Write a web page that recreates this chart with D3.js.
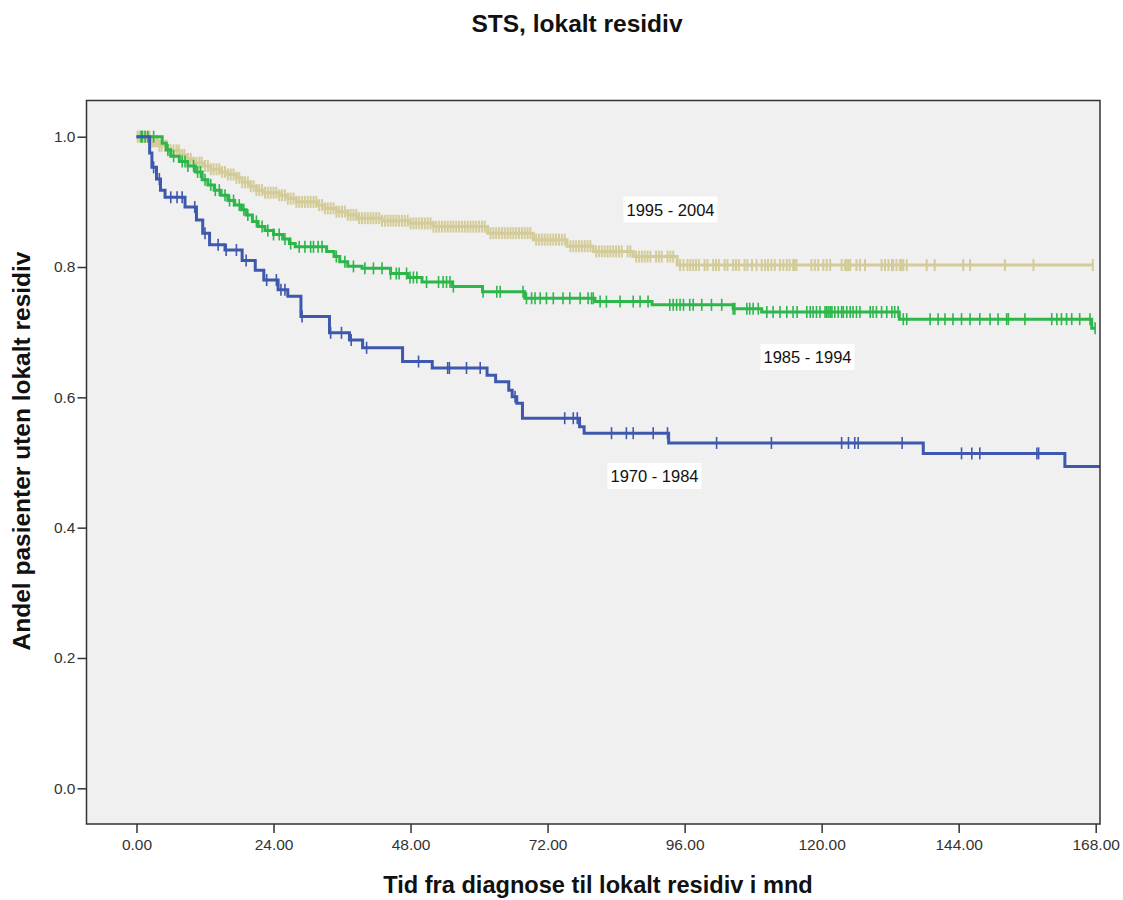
<!DOCTYPE html>
<html>
<head>
<meta charset="utf-8">
<script src="https://cdn.jsdelivr.net/npm/d3@7"></script>
<style>
    body { margin: 0; background: #fff; }
    text { font-family: "Liberation Sans", Arial, sans-serif; }
</style>
</head>
<body>
<div class="chart"></div>
<script>
// step data: survival after each drop, time in months
const blueTimes = [0, 2.3, 2.7, 3.5, 4.2, 5.0, 8.5, 10.5, 11.6, 12.8, 15.5, 18.5, 20.8, 22.3, 24.8, 26.5, 28.8, 33.8, 37.3, 39.6, 46.6, 51.8, 61.4, 62.9, 65.2, 65.8, 66.6, 67.6, 77.6, 78.4, 93.2, 137.8, 162.6, 168.75];
const blueSurv = [1.0, 0.975, 0.953, 0.935, 0.918, 0.907, 0.892, 0.872, 0.852, 0.834, 0.826, 0.81, 0.795, 0.78, 0.765, 0.755, 0.724, 0.699, 0.688, 0.676, 0.655, 0.645, 0.634, 0.624, 0.611, 0.601, 0.591, 0.568, 0.555, 0.545, 0.530, 0.514, 0.494, 0.494];
const blueCensor = [3.0, 4.0, 6.0, 7.1, 8.0, 10.2, 12.0, 14.3, 15.7, 17.5, 19.2, 22.8, 24.5, 25.3, 26.0, 29.0, 34.0, 35.9, 37.6, 40.3, 49.4, 54.5, 54.8, 57.8, 60.2, 66.3, 75.0, 76.5, 77.2, 83.2, 85.8, 87.0, 90.5, 93.0, 101.6, 111.2, 123.5, 124.7, 125.8, 126.4, 134.1, 144.5, 146.3, 147.7, 157.7, 158.0];

const greenTimes = [0, 4.5, 5.2, 6, 7.5, 9, 10.3, 11.5, 12.5, 13.6, 14.8, 16, 17.2, 18.4, 19.2, 20.3, 21.3, 22.5, 24, 25.6, 26.8, 27.8, 33.3, 34.6, 35.6, 37, 39.5, 44.5, 47.5, 50, 55.3, 60.6, 68, 80.3, 90.3, 104.5, 109.5, 133.6, 167.3, 167.9];
const greenSurv = [1.0, 0.99, 0.98, 0.97, 0.962, 0.955, 0.946, 0.934, 0.926, 0.918, 0.91, 0.902, 0.895, 0.888, 0.880, 0.870, 0.862, 0.856, 0.850, 0.843, 0.836, 0.831, 0.824, 0.816, 0.808, 0.801, 0.798, 0.790, 0.784, 0.777, 0.770, 0.762, 0.752, 0.747, 0.742, 0.736, 0.731, 0.720, 0.706, 0.706];
const greenCensor = [0.8, 1.0, 1.5, 2.0, 3.0, 5.5, 6.5, 8, 8.5, 9, 10, 10.7, 11.2, 12, 13, 13.8, 14.5, 15.5, 16.3, 17, 18, 18.8, 19.5, 21, 22, 23, 24, 25, 26, 27, 28.5, 29.5, 30.5, 31, 31.8, 32.5, 35, 36.5, 38, 40, 41.5, 43, 44.5, 45.5, 46,
    47.3, 47.9, 48.5, 49.1, 50.8, 52.9, 53.7, 54.3, 54.9, 55.5, 60.7, 63.1, 63.7, 67.7, 68.3, 69.2, 69.8, 70.7, 71.8, 73, 74.7, 75.9, 77.7, 79.1, 79.7, 80, 81.2, 82.3, 84.7, 87, 88.2, 89.6,
    93.4, 94, 94.6, 95.2, 95.8, 96.9, 97.5, 99, 100.7, 102.5, 104.5, 104.8, 106.9, 107.4, 108, 108.9, 110.4, 111.5, 112.7, 113.9, 115,
    115.7, 117.4, 118, 118.5, 119.1, 119.7, 120.6, 120.9, 121.2, 121.5, 121.8, 122.3, 122.9, 123.5, 123.8, 124.4, 125, 125.5, 126.1, 126.7, 128.5, 129, 129.6, 130.5, 131.4, 132.3, 132.8, 133.4,
    134.3, 134.9, 139, 140.4, 141.6, 143, 144.5, 146, 147.7, 149.5, 150.9, 152.4, 152.7, 155.6, 160.3, 161.2, 162, 162.9, 163.8, 165.2, 167, 167.9];

const tanTimes = [0, 2.5, 4, 5.5, 7.5, 8.8, 10, 11.7, 13, 14.6, 16, 17.5, 18.5, 19.9, 21, 22.2, 25, 26.5, 28, 31.6, 33, 35, 37, 38.6, 43, 47.9, 52, 61.5, 69.5, 75.4, 80, 87, 94.7, 167.5];
const tanSurv = [1.0, 0.993, 0.986, 0.979, 0.972, 0.966, 0.960, 0.955, 0.950, 0.946, 0.942, 0.937, 0.930, 0.924, 0.918, 0.914, 0.910, 0.905, 0.900, 0.895, 0.890, 0.885, 0.880, 0.875, 0.871, 0.867, 0.862, 0.852, 0.842, 0.832, 0.824, 0.816, 0.803, 0.803];
const tanCensor = [0.2, 0.5, 0.8, 1, 1.3, 1.5, 1.8, 2, 2.3, 2.5, 2.8, 3, 3.3, 3.5, 3.8, 4, 4.4, 5, 5.3, 5.5, 6, 6.5, 7, 7.4, 8, 8.4, 9, 9.5, 10, 10.5, 11, 11.4, 12, 12.5, 13, 13.5, 14, 14.5, 15, 15.5, 16, 16.5, 17, 17.5, 18, 18.5, 19, 19.5, 20, 20.5, 21, 21.5, 22, 22.5, 23, 23.5, 24, 24.5, 25, 25.5, 26, 26.5, 27, 27.5, 28, 28.5, 29, 29.5, 30, 30.5, 31, 31.5, 32, 32.5, 33, 33.5, 34, 34.5, 35, 35.5, 36, 36.5, 37, 37.5, 38, 38.5, 39, 39.5, 40, 40.5, 41, 41.5, 42, 42.5, 43, 43.5, 44, 44.5, 45, 45.5,
    46, 46.5, 47, 47.5, 48, 48.5, 49, 49.5, 50, 50.5, 51, 51.5, 52, 52.5, 53, 53.5, 54, 54.5, 55, 55.5, 56, 56.5, 57, 57.5, 58, 58.5, 59, 59.5, 60, 60.5, 61, 62, 62.5, 63, 63.5, 64, 64.5, 65, 65.5, 66, 66.5, 67, 67.5, 68, 68.5, 69, 70, 70.5, 71, 71.5, 72, 72.5, 73, 73.5, 74, 74.5, 75, 76, 76.5, 77, 77.5, 78, 78.5, 79, 79.5, 80.5, 81, 81.5, 82, 82.5, 83, 83.5, 84, 84.5, 85, 86, 86.5, 87.5, 88, 88.5, 89, 89.5, 90, 91, 91.5, 92, 93, 93.5, 94,
    95.2, 95.8, 96.5, 97, 97.5, 98, 98.5, 99.5, 100, 101, 101.5, 102, 103, 103.5, 104.5, 105, 105.5, 106.5, 107, 107.8,
    108.6, 109.5, 110.1, 110.6, 111.2, 111.8, 112.7, 113.3, 113.9, 114.4, 115, 115.3, 115.6, 118.2, 118.8, 119.4, 120.3, 120.9, 121.5, 123.5, 124.1, 124.4, 124.7, 125, 126.1, 126.7, 127.6,
    130.5, 131.1, 131.7, 132.3, 132.5, 133.1, 133.7, 134, 134.3, 134.9, 138.4, 139.8, 144.8, 146, 152.1, 157.1, 167.5];

const xTicks = [0, 24, 48, 72, 96, 120, 144, 168];
const yTicks = [0, 0.2, 0.4, 0.6, 0.8, 1.0];

const series = [
    { name: "1995 - 2004", times: tanTimes, surv: tanSurv, censor: tanCensor, color: "#d4cc98", tick: 2, lx: 670.5, ly: 209.5 },
    { name: "1985 - 1994", times: greenTimes, surv: greenSurv, censor: greenCensor, color: "#2db64a", tick: 1.6, lx: 807.5, ly: 357 },
    { name: "1970 - 1984", times: blueTimes, surv: blueSurv, censor: blueCensor, color: "#3e58ad", tick: 1.6, lx: 654.5, ly: 476 }
];

const w = 1123, h = 900;
const frame = { left: 86.5, right: 1100, top: 100.5, bottom: 824 };

const xScale = d3.scaleLinear().domain([0, 168]).range([136.5, 1095.7]);
const yScale = d3.scaleLinear().domain([0, 1]).range([788.3, 136.7]);

function survAt(s, t) {
    let v = s.surv[0];
    for (let i = 0; i < s.times.length; i++) {
        if (s.times[i] <= t) v = s.surv[i];
    }
    return v;
}

const svg = d3.select('.chart')
    .append('svg')
    .attr('width', w)
    .attr('height', h);

svg.append('rect')
    .attr('x', frame.left)
    .attr('y', frame.top)
    .attr('width', frame.right - frame.left)
    .attr('height', frame.bottom - frame.top)
    .attr('fill', '#f0f0f0');

const line = d3.line()
    .x(d => xScale(d[0]))
    .y(d => yScale(d[1]))
    .curve(d3.curveStepAfter);

for (let s of series) {
    const pts = s.times.map((t, i) => [t, s.surv[i]]);
    svg.append('path')
        .attr('d', line(pts))
        .attr('fill', 'none')
        .attr('stroke', s.color)
        .attr('stroke-width', 3);

    svg.append('g')
        .selectAll('line')
        .data(s.censor)
        .enter()
        .append('line')
        .attr('x1', d => xScale(d))
        .attr('x2', d => xScale(d))
        .attr('y1', d => yScale(survAt(s, d)) - 6)
        .attr('y2', d => yScale(survAt(s, d)) + 6)
        .attr('stroke', s.color)
        .attr('stroke-width', s.tick);
}

// labels
for (let s of series) {
    const t = svg.append('text')
        .attr('x', s.lx)
        .attr('y', s.ly)
        .attr('text-anchor', 'middle')
        .attr('dominant-baseline', 'central')
        .attr('font-size', 16.5)
        .attr('fill', '#111')
        .text(s.name);
    const bb = t.node().getBBox();
    svg.insert('rect', () => t.node())
        .attr('x', bb.x - 3)
        .attr('y', bb.y - 4)
        .attr('width', bb.width + 6)
        .attr('height', bb.height + 8)
        .attr('fill', '#fff');
}

svg.append('rect')
    .attr('x', frame.left)
    .attr('y', frame.top)
    .attr('width', frame.right - frame.left)
    .attr('height', frame.bottom - frame.top)
    .attr('fill', 'none')
    .attr('stroke', '#333')
    .attr('stroke-width', 1.5);

const xAxis = d3.axisBottom(xScale)
    .tickValues(xTicks)
    .tickFormat(d3.format('.2f'))
    .tickSize(9)
    .tickPadding(6);

const yAxis = d3.axisLeft(yScale)
    .tickValues(yTicks)
    .tickFormat(d3.format('.1f'))
    .tickSize(9)
    .tickPadding(2);

const gx = svg.append('g')
    .attr('transform', 'translate(0,' + frame.bottom + ')')
    .call(xAxis);

const gy = svg.append('g')
    .attr('transform', 'translate(' + frame.left + ',0)')
    .call(yAxis);

for (let g of [gx, gy]) {
    g.select('.domain').remove();
    g.selectAll('line').attr('stroke', '#333').attr('stroke-width', 1.5);
    g.selectAll('text')
        .attr('font-family', '"Liberation Sans", Arial, sans-serif')
        .attr('font-size', 15.5)
        .attr('fill', '#333');
}

svg.append('text')
    .attr('x', 577)
    .attr('y', 32)
    .attr('text-anchor', 'middle')
    .attr('font-size', 24.5)
    .attr('font-weight', 'bold')
    .attr('fill', '#111')
    .text('STS, lokalt residiv');

svg.append('text')
    .attr('x', 598)
    .attr('y', 893)
    .attr('text-anchor', 'middle')
    .attr('font-size', 23.6)
    .attr('font-weight', 'bold')
    .attr('fill', '#111')
    .text('Tid fra diagnose til lokalt residiv i mnd');

svg.append('text')
    .attr('transform', 'rotate(-90)')
    .attr('x', -451)
    .attr('y', 30)
    .attr('text-anchor', 'middle')
    .attr('font-size', 24.5)
    .attr('font-weight', 'bold')
    .attr('fill', '#111')
    .text('Andel pasienter uten lokalt residiv');
</script>
</body>
</html>
